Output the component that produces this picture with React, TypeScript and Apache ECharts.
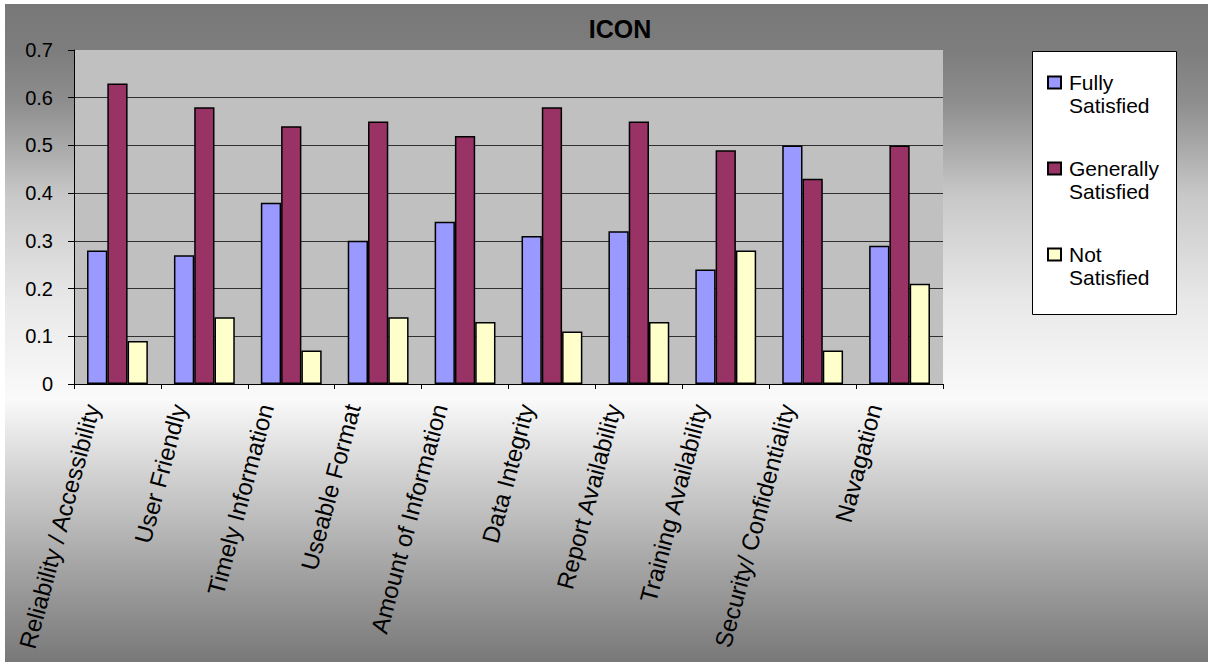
import React, { useEffect, useRef } from "react";
import * as echarts from "echarts";

const categories = [
  "Reliability / Accessibility",
  "User Friendly",
  "Timely Information",
  "Useable Format",
  "Amount of Information",
  "Data Integrity",
  "Report Availability",
  "Training Availability",
  "Security/ Confidentiality",
  "Navagation",
];
const seriesNames = ["Fully Satisfied", "Generally Satisfied", "Not Satisfied"];
const fullySatisfied = [0.28, 0.27, 0.38, 0.3, 0.34, 0.31, 0.32, 0.24, 0.5, 0.29];
const generallySatisfied = [0.63, 0.58, 0.54, 0.55, 0.52, 0.58, 0.55, 0.49, 0.43, 0.5];
const notSatisfied = [0.09, 0.14, 0.07, 0.14, 0.13, 0.11, 0.13, 0.28, 0.07, 0.21];
const seriesColors = ["#9999ff", "#993366", "#ffffcc"];
const yTicks = [0, 0.1, 0.2, 0.3, 0.4, 0.5, 0.6, 0.7];

const FONT = "'Liberation Sans', Arial, sans-serif";

export default function App() {
  const ref = useRef<HTMLDivElement>(null);
  useEffect(() => {
    if (!ref.current) return;
    const chart = echarts.init(ref.current, null, { renderer: "svg" });
    const values = [fullySatisfied, generallySatisfied, notSatisfied];
    chart.setOption({
      animation: false,
      backgroundColor: "#ffffff",
      textStyle: { fontFamily: FONT },
      title: {
        text: "ICON",
        left: 615,
        top: 11,
        textAlign: "center",
        textStyle: { fontFamily: FONT, fontWeight: "bold", fontSize: 25, color: "#000" },
      },
      graphic: [
        {
          type: "rect",
          z: -10,
          silent: true,
          shape: { x: 5, y: 4, width: 1203, height: 658 },
          style: {
            fill: new echarts.graphic.LinearGradient(0, 0, 0, 1, [
              { offset: 0, color: "#787878" },
              { offset: 0.07, color: "#7d7d7d" },
              { offset: 0.15, color: "#8e8e8e" },
              { offset: 0.22, color: "#aaaaaa" },
              { offset: 0.29, color: "#c8c8c8" },
              { offset: 0.45, color: "#e8e8e8" },
              { offset: 0.6, color: "#fafafa" },
              { offset: 0.72, color: "#d0d0d0" },
              { offset: 0.87, color: "#a0a0a0" },
              { offset: 1, color: "#787878" },
            ]),
          },
        },
        {
          type: "rect",
          z: 0,
          silent: true,
          shape: { x: 1032.5, y: 51.5, width: 144, height: 263 },
          style: { fill: "#ffffff", stroke: "#000", lineWidth: 1 },
        },
      ],
      legend: {
        orient: "vertical",
        left: 1047,
        top: 48,
        padding: 0,
        itemGap: 17,
        itemWidth: 13,
        itemHeight: 12,
        z: 5,
        data: seriesNames.map((n) => ({ name: n, icon: "rect" })),
        formatter: (name: string) => " \n" + name.replace(" ", "\n"),
        textStyle: {
          fontFamily: FONT,
          fontSize: 21,
          color: "#000",
          lineHeight: 23,
          padding: [0, 0, 0, 3],
        },
      },
      grid: {
        left: 74,
        top: 50,
        right: 265,
        bottom: 278,
        show: true,
        backgroundColor: "#c0c0c0",
        borderWidth: 0,
        containLabel: false,
      },
      xAxis: {
        type: "category",
        data: categories,
        axisLine: { lineStyle: { color: "#000", width: 1 } },
        axisTick: { show: true, length: 5, lineStyle: { color: "#000" } },
        axisLabel: {
          interval: 0,
          rotate: 75,
          margin: 15,
          fontSize: 24,
          fontFamily: FONT,
          color: "#000",
          verticalAlign: "bottom",
          padding: [0, 12, 11, 0],
        },
      },
      yAxis: {
        type: "value",
        min: 0,
        max: 0.7,
        interval: 0.1,
        axisLine: { show: true, lineStyle: { color: "#000", width: 1 } },
        axisTick: { show: true, length: 6, lineStyle: { color: "#000" } },
        axisLabel: {
          fontSize: 20,
          fontFamily: FONT,
          color: "#000",
          margin: 21,
          formatter: (v: number) => String(Math.round(v * 10) / 10),
        },
        splitLine: {
          show: true,
          lineStyle: {
            color: yTicks.map((t, i) => (i === yTicks.length - 1 ? "rgba(0,0,0,0)" : "#303030")),
            width: 1,
          },
        },
      },
      series: seriesNames.map((name, i) => ({
        name,
        type: "bar",
        data: values[i],
        barGap: "0%",
        barCategoryGap: "30%",
        itemStyle: { color: seriesColors[i], borderColor: "#000", borderWidth: 1.5 },
      })),
    });
    return () => chart.dispose();
  }, []);
  return (
    <div
      ref={ref}
      style={{ position: "fixed", left: 0, top: 0, width: 1208, height: 662 }}
    />
  );
}
